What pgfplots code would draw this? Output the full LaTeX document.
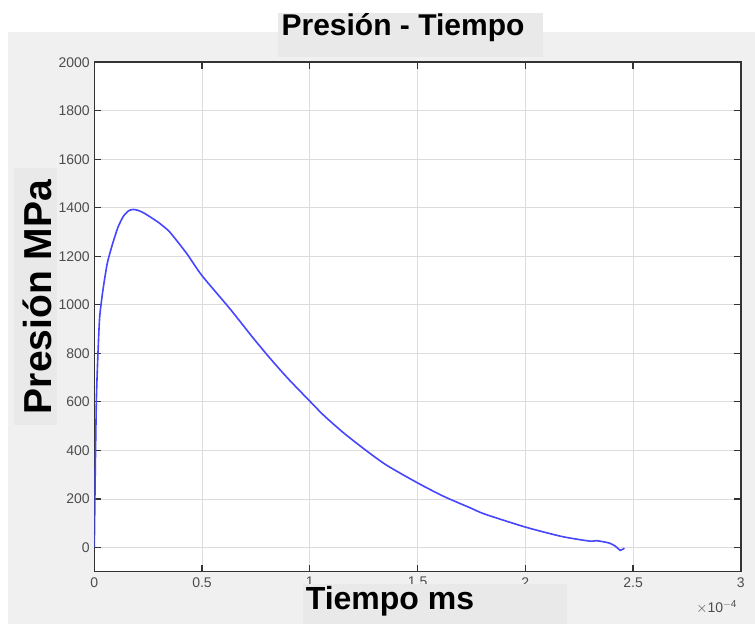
\documentclass[border=0pt]{standalone}
\usepackage{pgfplots}
\pgfplotsset{compat=1.18}
\usepackage{fontspec}
\setmainfont{Liberation Sans}
\definecolor{bgray}{HTML}{F0F0F0}
\definecolor{tgray}{HTML}{E9E9E9}
\definecolor{tickgray}{HTML}{4D4D4D}
\definecolor{axgray}{HTML}{333333}
\definecolor{gridgray}{HTML}{DCDCDC}
\definecolor{lineblue}{RGB}{70,70,255}
\pgfplotstableread{
x y
0 0
0.005 350
0.01 620
0.017 800
0.025 950
0.04 1060
0.06 1170
0.085 1252
0.11 1320
0.135 1365
0.16 1388
0.18 1393
0.2 1390
0.225 1381
0.26 1362
0.3 1338
0.35 1300
0.43 1210
0.5 1120
0.63 983
0.74 860
0.82 775
0.9 695
1.0 603
1.064 545
1.157 472
1.265 397
1.358 338
1.5 266
1.62 211
1.745 163
1.81 138
2.0 84
2.17 45
2.3 26
2.33 28
2.39 18
2.42 4
2.44 -12
2.46 -3
}\datatable
\begin{document}
\begin{tikzpicture}[x=1pt,y=1pt]
\fill[white] (0,0) rectangle (755,624);
\fill[bgray] (8,0) rectangle (755,592);
\fill[tgray] (278,567) rectangle (543,611);
\node[font=\fontsize{30}{34}\selectfont\bfseries] at (403,596) {Presión - Tiempo};
\fill[tgray] (14,199) rectangle (57,456);
\node[rotate=90,font=\fontsize{39}{42}\selectfont\bfseries] at (37,327) {Presión MPa};
\begin{axis}[
  at={(94.3pt,52.3pt)}, anchor=south west,
  width=646.5pt, height=509.5pt, scale only axis,
  axis background/.style={fill=white},
  xmin=0, xmax=3, ymin=-100, ymax=2000,
  xtick={0,0.5,1,1.5,2,2.5,3},
  xticklabels={0,0.5,1,1.5,2,2.5,3},
  ytick={0,200,...,2000},
  /pgf/number format/assume math mode=true,
  /pgf/number format/1000 sep={},
  tick label style={font=\fontsize{14}{16}\selectfont, text=tickgray},
  xticklabel style={yshift=-2pt},
  yticklabel style={xshift=-1pt},
  tick align=inside, major tick length=7pt,
  tick style={axgray, line width=1.2pt},
  axis line style={axgray, line width=1.5pt},
  grid=major, major grid style={gridgray, line width=0.8pt},
]
\addplot[lineblue, line width=1.6pt, no marks, smooth, tension=0.4] table[x=x,y=y] {\datatable};
\end{axis}
\node[font=\fontsize{14}{16}\selectfont, text=tickgray, anchor=east] at (740,17) {$\times$10\raisebox{5pt}{\fontsize{10}{12}\selectfont $-$4}};
\fill[tgray] (303,0) rectangle (567,40);
\node[font=\fontsize{32}{36}\selectfont\bfseries] at (390,23) {Tiempo ms};
\end{tikzpicture}
\end{document}
